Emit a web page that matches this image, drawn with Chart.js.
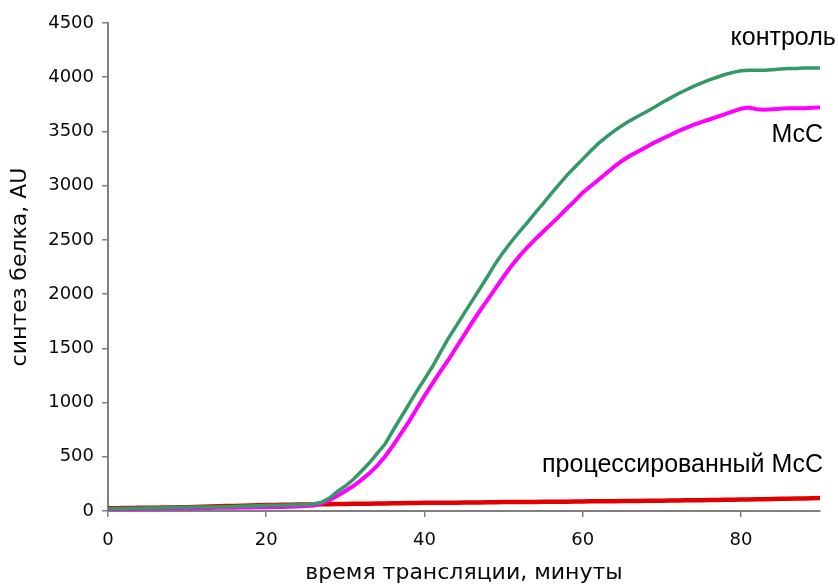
<!DOCTYPE html>
<html>
<head>
<meta charset="utf-8">
<script src="https://cdn.jsdelivr.net/npm/chart.js@4"></script>
<style>
  html, body { margin: 0; padding: 0; background: #fff; }
  #wrap { width: 838px; height: 586px; }
</style>
</head>
<body>
<div id="wrap"><canvas id="chart"></canvas></div>
<script>
// time, minutes (one reading per minute)
const minutes = [];
for (let m = 0; m <= 90; m++) minutes.push(m);

// protein synthesis, AU
const control = [
  20, 22, 24, 25, 26, 27, 28, 30, 32, 34, 35, 36, 37, 38, 39, 40,
  42, 44, 46, 48, 50, 52, 54, 56, 58, 60, 65, 80, 120, 180, 230, 290,
  365, 440, 530, 615, 740, 860, 980, 1100, 1215, 1330, 1460, 1590, 1705, 1820,
  1935, 2050, 2165, 2285, 2390, 2485, 2575, 2660, 2750, 2835, 2925, 3010, 3095, 3170,
  3245, 3320, 3390, 3450, 3505, 3555, 3600, 3640, 3680, 3720, 3765, 3805, 3845, 3880,
  3915, 3945, 3975, 4000, 4025, 4045, 4060, 4065, 4065, 4065, 4070, 4075, 4080, 4080,
  4085, 4085, 4085
];
const mcc = [
  15, 16, 17, 18, 19, 20, 21, 22, 23, 24, 25, 26, 27, 28, 29, 30,
  31, 32, 33, 34, 35, 36, 38, 40, 42, 45, 50, 70, 100, 140, 185, 230,
  285, 345, 415, 500, 600, 710, 820, 940, 1060, 1175, 1285, 1390, 1505, 1620,
  1735, 1845, 1950, 2055, 2160, 2260, 2350, 2430, 2505, 2575, 2645, 2715, 2790, 2860,
  2935, 2995, 3055, 3115, 3175, 3230, 3275, 3315, 3355, 3395, 3430, 3465, 3500, 3530,
  3560, 3585, 3610, 3635, 3660, 3685, 3710, 3720, 3705, 3700, 3705, 3710, 3715, 3715,
  3715, 3718, 3720
];
const processed = [
  25, 26, 27, 28, 29, 30, 31, 32, 33, 34, 35, 37, 39, 41, 43, 45,
  47, 49, 51, 53, 55, 56, 57, 58, 59, 60, 61, 62, 63, 64, 65, 66,
  67, 68, 69, 70, 71, 72, 73, 74, 75, 75, 76, 76, 77, 78, 79, 79,
  80, 81, 82, 82, 83, 83, 84, 85, 85, 86, 86, 87, 88, 89, 89, 90,
  91, 92, 92, 93, 94, 94, 95, 96, 97, 98, 99, 100, 101, 102, 103, 104,
  105, 106, 108, 109, 110, 112, 113, 115, 116, 118, 120
];

const xTicks = [0, 20, 40, 60, 80];
const yTicks = [0, 500, 1000, 1500, 2000, 2500, 3000, 3500, 4000, 4500];

// curve names, written next to the line ends
const seriesLabels = [
  { text: 'контроль', x: 92, y: 4360 },
  { text: 'МсС', x: 90.4, y: 3470 },
  { text: 'процессированный МсС', x: 90.4, y: 420 }
];

const toPoints = ys => ys.map((v, i) => ({ x: minutes[i], y: v }));

const axisGray = '#808080';
const textColor = '#0a0a0a';
const tickFont = { family: 'DejaVu Sans', size: 18 };
const titleFont = { family: 'DejaVu Sans', size: 22 };

const curveLabels = {
  id: 'curveLabels',
  afterDatasetsDraw(chart) {
    const { ctx, scales } = chart;
    ctx.save();
    ctx.font = '25px "Liberation Sans", Arial, sans-serif';
    ctx.fillStyle = '#000';
    ctx.textAlign = 'right';
    ctx.textBaseline = 'middle';
    seriesLabels.forEach(l => {
      ctx.fillText(l.text, scales.x.getPixelForValue(l.x), scales.y.getPixelForValue(l.y));
    });
    ctx.restore();
  }
};

const line = (data, color, width) => ({
  data: toPoints(data),
  borderColor: color,
  borderWidth: width,
  pointRadius: 0,
  tension: 0,
  fill: false
});

new Chart(document.getElementById('chart'), {
  type: 'line',
  data: {
    datasets: [
      line(control, '#339966', 3.5),
      line(mcc, '#ff00ff', 4),
      line(processed, '#e00000', 4.5)
    ]
  },
  options: {
    responsive: true,
    maintainAspectRatio: false,
    animation: false,
    events: [],
    layout: { padding: { top: 23, right: 18, left: 0, bottom: 0 } },
    plugins: { legend: { display: false }, tooltip: { enabled: false } },
    scales: {
      x: {
        type: 'linear',
        min: 0,
        max: 90,
        afterBuildTicks: s => { s.ticks = xTicks.map(v => ({ value: v })); },
        afterFit: s => { s.height = 75; },
        border: { color: axisGray, width: 2 },
        grid: { drawOnChartArea: false, color: axisGray, tickLength: 6, lineWidth: 1.5 },
        ticks: { color: textColor, font: tickFont, padding: 13, maxRotation: 0, callback: v => String(v) },
        title: {
          display: true,
          text: 'время трансляции, минуты',
          color: textColor,
          font: titleFont,
          padding: { top: -3, bottom: 0 }
        }
      },
      y: {
        min: 0,
        max: 4500,
        afterBuildTicks: s => { s.ticks = yTicks.map(v => ({ value: v })); },
        afterFit: s => { s.width = 108; },
        border: { color: axisGray, width: 2 },
        grid: { drawOnChartArea: false, color: axisGray, tickLength: 6, lineWidth: 1.5 },
        ticks: { color: textColor, font: tickFont, padding: 8, callback: v => String(v) },
        title: {
          display: true,
          text: 'синтез белка, AU',
          color: textColor,
          font: titleFont,
          padding: { top: 7, bottom: 0 }
        }
      }
    }
  },
  plugins: [curveLabels]
});
</script>
</body>
</html>
